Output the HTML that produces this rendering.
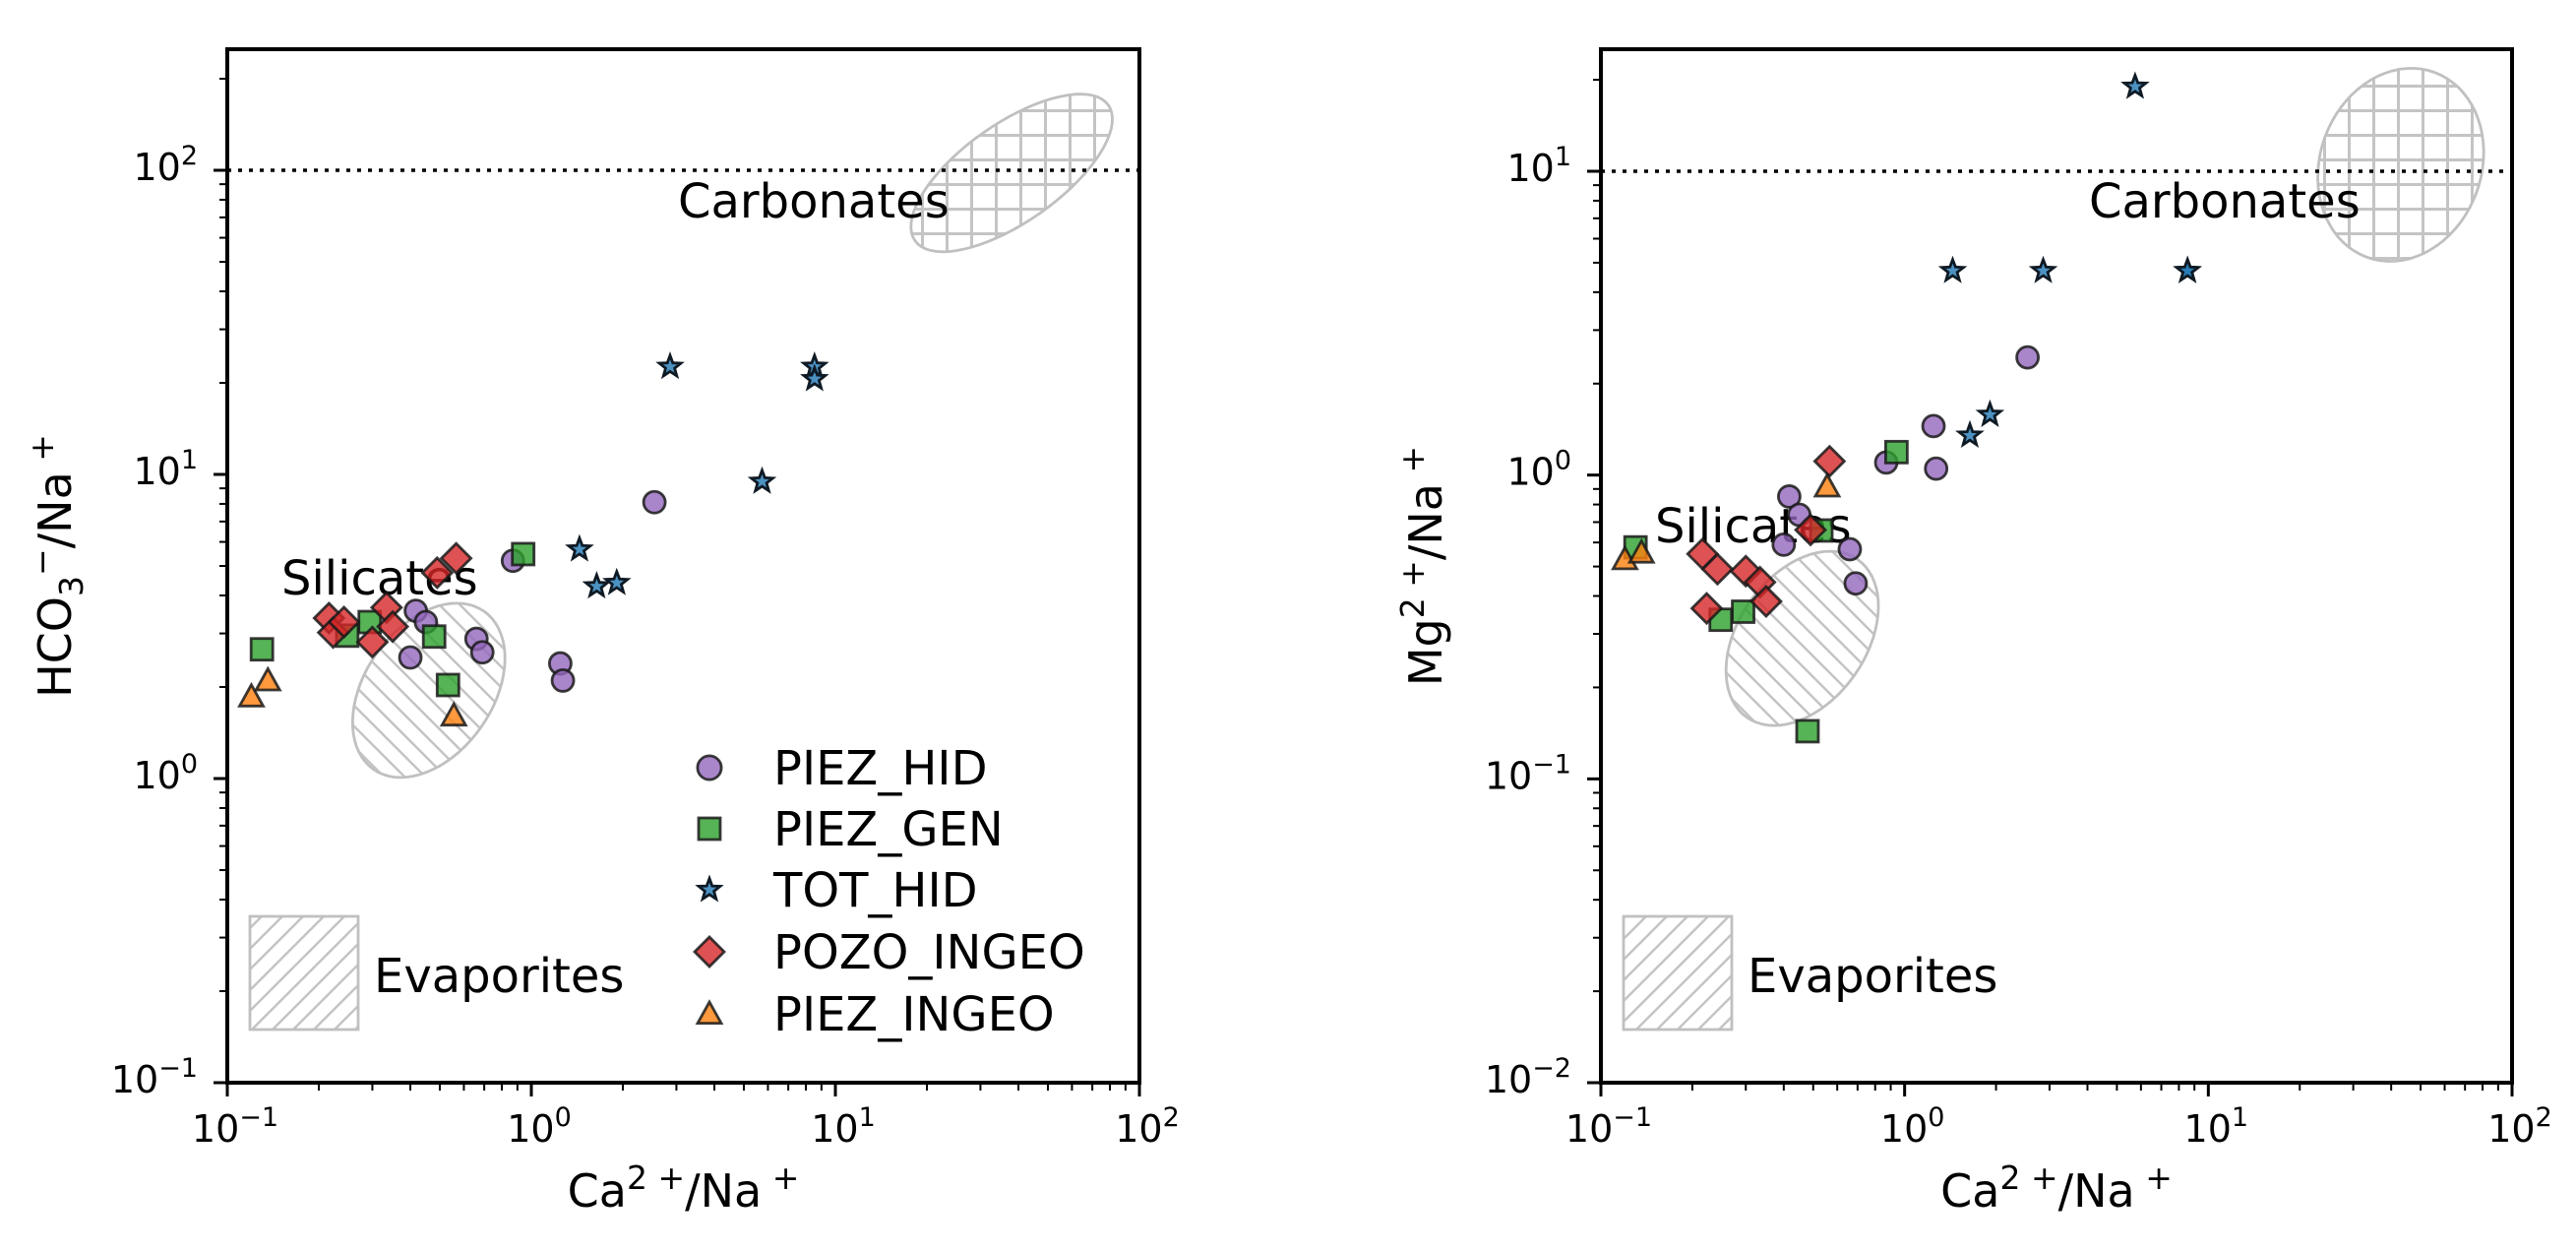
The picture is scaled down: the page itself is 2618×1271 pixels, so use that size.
<!DOCTYPE html>
<html><head><meta charset="utf-8"><style>
html,body{margin:0;padding:0;background:#fff;}
svg{display:block;font-family:"DejaVu Sans","Liberation Sans",sans-serif;}
</style></head><body>
<svg id="fig" width="2618" height="1271" viewBox="0 0 2618 1271" xmlns="http://www.w3.org/2000/svg">
<defs>
<pattern id="hBack" patternUnits="userSpaceOnUse" width="21" height="21">
<path d="M-5,-5 L26,26 M-5,16 L5,26 M16,-5 L26,5" stroke="#c4c4c4" stroke-width="2.5"/></pattern>
<pattern id="hFwd" patternUnits="userSpaceOnUse" width="21" height="21">
<path d="M-5,26 L26,-5 M-5,5 L5,-5 M16,26 L26,16" stroke="#c4c4c4" stroke-width="2.5"/></pattern>
<pattern id="hGrid" patternUnits="userSpaceOnUse" width="25" height="25">
<path d="M0,12.5 L25,12.5 M12.5,0 L12.5,25" stroke="#c4c4c4" stroke-width="3"/></pattern>
</defs>
<g id="gL"></g>
<g id="gR"></g>
</svg>
<script>
// ---- data ----
const seriesNames = ["PIEZ_HID","PIEZ_GEN","TOT_HID","POZO_INGEO","PIEZ_INGEO"];
const seriesColors = ["#9467bd","#2ca02c","#1f77b4","#d62728","#ff7f0e"];
const seriesMarkers = ["circle","square","star","diamond","triangle"];
// x: Ca/Na (shared by both panels)
const xPiezHid  = [0.87,2.54,0.417,0.45,0.40,0.66,0.69,1.245,1.27];
const xPiezGen  = [0.13,0.94,0.294,0.248,0.479,0.532];
const xTotHid   = [2.86,8.54,8.54,5.74,1.44,1.64,1.91];
const xPozoIngeo= [0.216,0.223,0.242,0.30,0.334,0.35,0.49,0.566];
const xPiezIngeo= [0.12,0.136,0.556];
// left panel: HCO3/Na
const yHcoPiezHid  = [5.2,8.1,3.56,3.27,2.5,2.88,2.6,2.39,2.1];
const yHcoPiezGen  = [2.66,5.47,3.27,2.95,2.93,2.03];
const yHcoTotHid   = [22.6,22.6,20.6,9.47,5.67,4.29,4.4];
const yHcoPozoIngeo= [3.37,3.02,3.27,2.81,3.65,3.16,4.75,5.3];
const yHcoPiezIngeo= [1.86,2.1,1.61];
// right panel: Mg/Na
const yMgPiezHid  = [1.10,2.44,0.85,0.74,0.59,0.57,0.44,1.45,1.05];
const yMgPiezGen  = [0.578,1.19,0.355,0.334,0.1435,0.657];
const yMgTotHid   = [4.7,4.7,4.7,19,4.7,1.35,1.58];
const yMgPozoIngeo= [0.55,0.364,0.49,0.483,0.444,0.384,0.66,1.11];
const yMgPiezIngeo= [0.528,0.555,0.916];
const xTickExp = [-1,0,1,2];
const yTickExpL = [-1,0,1,2];
const yTickExpR = [-2,-1,0,1];

const NS="http://www.w3.org/2000/svg";
function mk(parent,tag,attrs){const e=document.createElementNS(NS,tag);for(const k in attrs)e.setAttribute(k,attrs[k]);parent.appendChild(e);return e;}

function marker(g,type,cx,cy,color,s){
  let e;
  const st={fill:color,"fill-opacity":0.8,stroke:"#1a1a1a","stroke-opacity":0.85,"stroke-width":2.8,"stroke-linejoin":"miter"};
  s=s||1;
  if(type==="circle"){e=mk(g,"circle",Object.assign({cx:cx,cy:cy,r:11*s},st));}
  else if(type==="square"){const h=11*s;e=mk(g,"rect",Object.assign({x:cx-h,y:cy-h,width:2*h,height:2*h},st));}
  else if(type==="diamond"){const h=15*s;e=mk(g,"polygon",Object.assign({points:`${cx},${cy-h} ${cx+h},${cy} ${cx},${cy+h} ${cx-h},${cy}`},st));}
  else if(type==="triangle"){const h=12*s;e=mk(g,"polygon",Object.assign({points:`${cx},${cy-h} ${cx+h},${cy+h*0.8} ${cx-h},${cy+h*0.8}`},st));}
  else {let p=[];for(let i=0;i<10;i++){const r=i%2?4.8*s:11.5*s;const a=-Math.PI/2+i*Math.PI/5;p.push((cx+r*Math.cos(a)).toFixed(1)+","+(cy+r*Math.sin(a)).toFixed(1));}
    st["stroke-opacity"]=1;st.stroke="#0f1a24";
    e=mk(g,"polygon",Object.assign({points:p.join(" ")},st));}
  return e;
}
function ellPath(cx,cy,a,b,rotDeg){
  const t=rotDeg*Math.PI/180;let p=[];
  for(let i=0;i<72;i++){const u=i/72*2*Math.PI;const x=a*Math.cos(u),y=b*Math.sin(u);
    p.push((cx+x*Math.cos(t)-y*Math.sin(t)).toFixed(1)+","+(cy+x*Math.sin(t)+y*Math.cos(t)).toFixed(1));}
  return "M"+p.join(" L")+" Z";
}
function tickText(g,x,y,d,anchor){
  const t=mk(g,"text",{x:x,y:y,"font-size":38,"text-anchor":anchor});
  t.innerHTML='10<tspan dy="-16" font-size="27">'+(d<0?'\u2212'+(-d):d)+'</tspan>';
  return t;
}

function panel(g,opt){
  const L=opt.L,R=opt.R,T=50,B=1100;
  const dec=(R-L)/3;
  const X=v=>L+(Math.log10(v)+1)*dec;
  const Y=v=>B-(Math.log10(v)-opt.ymin)*dec;
  for(const el of opt.ellipses){
    const e=mk(g,"path",{d:ellPath(X(el.cx),Y(el.cy),el.a,el.b,el.rot),fill:`url(#${el.pat})`,stroke:"#c0c0c0","stroke-width":2.8});
    
    
  }
  const bx=mk(g,"rect",{x:L+23,y:931,width:110,height:115,fill:"url(#hFwd)",stroke:"#c0c0c0","stroke-width":2.8});
  
  
  const dl=mk(g,"line",{x1:L,x2:R,y1:Y(opt.dotY),y2:Y(opt.dotY),stroke:"#000","stroke-width":3.5,"stroke-dasharray":"4 7"});
  
  
  for(const t of opt.texts){
    const e=mk(g,"text",{x:t.x,y:t.y,"font-size":48,fill:"#000"});e.textContent=t.s;
    
    
  }
  opt.series.forEach((sr,si)=>{
    const sg=mk(g,"g",{});
    
    
    sr.x.forEach((xv,i)=>{
      const m=marker(sg,seriesMarkers[si],X(xv),Y(sr.y[i]),seriesColors[si]);
      
      
    });
  });
  const sp=mk(g,"rect",{x:L,y:T,width:R-L,height:B-T,fill:"none",stroke:"#000","stroke-width":4});
  
  
  for(let d=-1;d<=2;d++){
    mk(g,"line",{x1:X(Math.pow(10,d)),x2:X(Math.pow(10,d)),y1:B,y2:B+14,stroke:"#000","stroke-width":3});
    if(d<2)for(let k=2;k<10;k++){const xx=X(k*Math.pow(10,d));mk(g,"line",{x1:xx,x2:xx,y1:B,y2:B+8,stroke:"#000","stroke-width":2});}
  }
  xTickExp.forEach(d=>{
    const t=tickText(g,X(Math.pow(10,d))+8,1160,d,"middle");
    
    
  });
  for(let d=opt.ymin;d<=opt.ymin+3;d++){
    mk(g,"line",{x1:L-14,x2:L,y1:Y(Math.pow(10,d)),y2:Y(Math.pow(10,d)),stroke:"#000","stroke-width":3});
    for(let k=2;k<10;k++){const v=k*Math.pow(10,d);if(Y(v)<T)break;mk(g,"line",{x1:L-8,x2:L,y1:Y(v),y2:Y(v),stroke:"#000","stroke-width":2});}
  }
  opt.yticks.forEach(d=>{
    const t=tickText(g,L-30,Y(Math.pow(10,d))+10,d,"end");
    
    
  });
  const xl=mk(g,"text",{x:(L+R)/2,y:1226,"font-size":46,"text-anchor":"middle"});
  xl.innerHTML='Ca<tspan dy="-18" font-size="33">2 +</tspan><tspan dy="18">/Na</tspan><tspan dy="-18" font-size="33"> +</tspan>';
  
  
  const yl=mk(g,"text",{x:0,y:0,"font-size":46,"text-anchor":"middle",transform:`translate(${opt.ylx},575) rotate(-90)`});
  yl.innerHTML=opt.ylab;
  
  
}

panel(document.getElementById("gL"),{L:231,R:1158,ymin:-1,dotY:100,yticks:yTickExpL,ylx:72,
  ylab:'HCO<tspan dy="12" font-size="33">3</tspan><tspan dy="-30" font-size="33">\u2212</tspan><tspan dy="18">/Na</tspan><tspan dy="-18" font-size="33"> +</tspan>',
  ellipses:[{cx:0.46,cy:1.95,a:98,b:65,rot:-55,pat:"hBack",name:"silicates-ellipse"},
            {cx:38,cy:98,a:120,b:50,rot:-35,pat:"hGrid",name:"carbonates-ellipse"}],
  texts:[{x:689,y:221,s:"Carbonates",name:"carbonates-label"},{x:286,y:604,s:"Silicates",name:"silicates-label"},{x:380,y:1008,s:"Evaporites",name:"evaporites-label"}],
  series:[{x:xPiezHid,y:yHcoPiezHid},{x:xPiezGen,y:yHcoPiezGen},{x:xTotHid,y:yHcoTotHid},{x:xPozoIngeo,y:yHcoPozoIngeo},{x:xPiezIngeo,y:yHcoPiezIngeo}]});

panel(document.getElementById("gR"),{L:1627,R:2553,ymin:-2,dotY:10,yticks:yTickExpR,ylx:1465,
  ylab:'Mg<tspan dy="-18" font-size="33">2 +</tspan><tspan dy="18">/Na</tspan><tspan dy="-18" font-size="33"> +</tspan>',
  ellipses:[{cx:0.46,cy:0.29,a:98,b:65,rot:-55,pat:"hBack",name:"silicates-ellipse"},
            {cx:43,cy:10.5,a:100,b:82,rot:-70,pat:"hGrid",name:"carbonates-ellipse"}],
  texts:[{x:2123,y:221,s:"Carbonates",name:"carbonates-label"},{x:1682,y:551,s:"Silicates",name:"silicates-label"},{x:1776,y:1008,s:"Evaporites",name:"evaporites-label"}],
  series:[{x:xPiezHid,y:yMgPiezHid},{x:xPiezGen,y:yMgPiezGen},{x:xTotHid,y:yMgTotHid},{x:xPozoIngeo,y:yMgPozoIngeo},{x:xPiezIngeo,y:yMgPiezIngeo}]});

const gl=mk(document.getElementById("gL"),"g",{});


const legRows=[780,842,904,967,1030];
seriesNames.forEach((n,i)=>{
  const m=marker(gl,seriesMarkers[i],721,legRows[i],seriesColors[i],i===0?1.1:1);
  
  
  const t=mk(gl,"text",{x:786,y:legRows[i]+17,"font-size":48});
  t.textContent=n;
  
  
});
</script>
</body></html>
